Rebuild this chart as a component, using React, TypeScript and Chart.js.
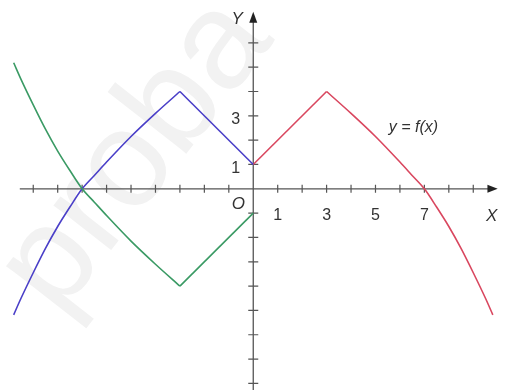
import { useEffect, useRef } from "react";
import { Chart, registerables } from "chart.js";

Chart.register(...registerables);

// f(x) for x >= 0 (red)
const redLineX = [0, 3];
const redLineY = [1, 4];
const redCurveX = [3, 4, 5, 6, 6.5, 7, 7.5, 8, 8.5, 9, 9.5, 9.8];
const redCurveY = [4, 3.1, 2.15, 1.1, 0.55, 0, -0.75, -1.55, -2.45, -3.45, -4.5, -5.18];

// blue branch (x <= 0)
const blueLineX = [-3, 0];
const blueLineY = [4, 1];
const blueCurveX = [-9.8, -9.5, -9, -8.5, -8, -7.5, -7, -6.5, -6, -5, -4, -3];
const blueCurveY = [-5.18, -4.5, -3.45, -2.45, -1.55, -0.75, 0, 0.55, 1.1, 2.15, 3.1, 4];

// green branch (x <= 0)
const greenLineX = [-3, 0];
const greenLineY = [-4, -1];
const greenCurveX = [-9.8, -9.5, -9, -8.5, -8, -7.5, -7, -6.5, -6, -5, -4, -3];
const greenCurveY = [5.18, 4.5, 3.45, 2.45, 1.55, 0.75, 0, -0.55, -1.1, -2.15, -3.1, -4];

const xTickValues = [-9, -8, -7, -6, -5, -4, -3, -2, -1, 1, 2, 3, 4, 5, 6, 7, 8, 9];
const yTickValues = [-8, -7, -6, -5, -4, -3, -2, -1, 1, 2, 3, 4, 5, 6];
const xLabelValues = [1, 3, 5, 7];
const xLabelTexts = ["1", "3", "5", "7"];
const yLabelValues = [1, 3];
const yLabelTexts = ["1", "3"];

const RED = "#d9475f";
const BLUE = "#4a3fc8";
const GREEN = "#3a9a64";
const AXIS = "#555555";
const FONT = "'Liberation Sans', Arial, sans-serif";

function pts(xs: number[], ys: number[]) {
  return xs.map((x, i) => ({ x, y: ys[i] }));
}

const watermarkPlugin = {
  id: "watermark",
  beforeDatasetsDraw(chart: any) {
    const ctx = chart.ctx;
    ctx.save();
    ctx.translate(58, 318);
    ctx.rotate((-52 * Math.PI) / 180);
    ctx.fillStyle = "#f2f2f2";
    ctx.font = `138px ${FONT}`;
    ctx.textBaseline = "alphabetic";
    ctx.fillText("proba", 0, 0);
    ctx.restore();
  },
};

const axesPlugin = {
  id: "customAxes",
  beforeDatasetsDraw(chart: any) {
    const ctx = chart.ctx;
    const xs = chart.scales.x;
    const ys = chart.scales.y;
    const px = (v: number) => xs.getPixelForValue(v);
    const py = (v: number) => ys.getPixelForValue(v);
    const x0 = px(0);
    const y0 = py(0);
    ctx.save();
    ctx.strokeStyle = AXIS;
    ctx.fillStyle = "#222";
    ctx.lineWidth = 1.3;
    // x axis
    ctx.beginPath();
    ctx.moveTo(px(-9.55), y0);
    ctx.lineTo(px(9.7), y0);
    ctx.stroke();
    // y axis
    ctx.beginPath();
    ctx.moveTo(x0, py(-8.4));
    ctx.lineTo(x0, py(6.9));
    ctx.stroke();
    // arrows
    ctx.beginPath();
    ctx.moveTo(px(10.0), y0);
    ctx.lineTo(px(9.58), y0 - 4);
    ctx.lineTo(px(9.58), y0 + 4);
    ctx.closePath();
    ctx.fill();
    ctx.beginPath();
    ctx.moveTo(x0, py(7.28));
    ctx.lineTo(x0 - 4, py(6.82));
    ctx.lineTo(x0 + 4, py(6.82));
    ctx.closePath();
    ctx.fill();
    // ticks
    ctx.lineWidth = 1.2;
    ctx.beginPath();
    xTickValues.forEach((v) => {
      ctx.moveTo(px(v), y0 - 4);
      ctx.lineTo(px(v), y0 + 4);
    });
    yTickValues.forEach((v) => {
      ctx.moveTo(x0 - 5, py(v));
      ctx.lineTo(x0 + 5, py(v));
    });
    ctx.stroke();
    // tick labels
    ctx.fillStyle = "#333";
    ctx.font = `16px ${FONT}`;
    ctx.textAlign = "center";
    ctx.textBaseline = "middle";
    xLabelValues.forEach((v, i) => {
      ctx.fillText(xLabelTexts[i], px(v), y0 + 27);
    });
    ctx.textAlign = "right";
    yLabelValues.forEach((v, i) => {
      ctx.fillText(yLabelTexts[i], x0 - 13, py(v) + 4);
    });
    // axis names
    ctx.font = `italic 17px ${FONT}`;
    ctx.textAlign = "center";
    ctx.fillText("O", x0 - 15, y0 + 15);
    ctx.fillText("X", px(9.75), y0 + 27);
    ctx.fillText("Y", x0 - 16, py(6.95));
    ctx.font = `italic 16px ${FONT}`;
    ctx.fillText("y = f(x)", px(6.55), py(2.52));
    ctx.restore();
  },
};

export default function App() {
  const ref = useRef<HTMLCanvasElement | null>(null);
  useEffect(() => {
    document.body.style.margin = "0";
    if (!ref.current) return;
    const line = (data: any, color: string, mono: boolean) => ({
      data,
      borderColor: color,
      backgroundColor: color,
      borderWidth: 1.6,
      showLine: true,
      pointRadius: 0,
      fill: false,
      cubicInterpolationMode: mono ? "monotone" : "default",
      tension: 0,
    });
    const chart = new Chart(ref.current, {
      type: "scatter",
      data: {
        datasets: [
          line(pts(greenCurveX, greenCurveY), GREEN, true),
          line(pts(greenLineX, greenLineY), GREEN, false),
          line(pts(blueCurveX, blueCurveY), BLUE, true),
          line(pts(blueLineX, blueLineY), BLUE, false),
          line(pts(redLineX, redLineY), RED, false),
          line(pts(redCurveX, redCurveY), RED, true),
        ] as any,
      },
      options: {
        animation: false,
        responsive: false,
        maintainAspectRatio: false,
        layout: { padding: 0 },
        scales: {
          x: { type: "linear", display: false, min: -10.36, max: 10.38 },
          y: { type: "linear", display: false, min: -8.27, max: 7.76 },
        },
        plugins: {
          legend: { display: false },
          tooltip: { enabled: false },
        },
        events: [],
      } as any,
      plugins: [watermarkPlugin, axesPlugin],
    });
    return () => chart.destroy();
  }, []);
  return (
    <div style={{ position: "fixed", left: 0, top: 0, width: 507, height: 390, background: "#fff" }}>
      <canvas ref={ref} width={507} height={390} style={{ width: 507, height: 390 }} />
    </div>
  );
}
